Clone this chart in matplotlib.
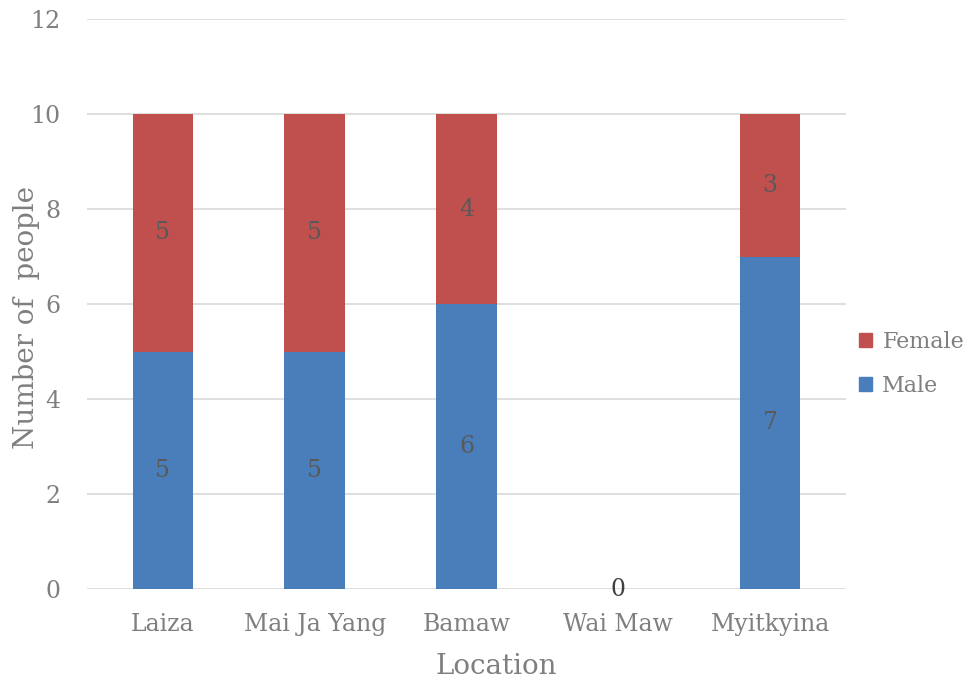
import matplotlib.pyplot as plt
from matplotlib.patches import Patch

locations = ['Laiza', 'Mai Ja Yang', 'Bamaw', 'Wai Maw', 'Myitkyina']
male = [5, 5, 6, 0, 7]
female = [5, 5, 4, 0, 3]

blue = '#4A7EBB'
red = '#C0504D'
grey = '#7F7F7F'
label_grey = '#595959'

plt.rcParams['font.family'] = ['DejaVu Serif']

fig = plt.figure(figsize=(9.71, 6.84), dpi=100)
ax = fig.add_axes([87 / 971, 1 - 589 / 684, (846 - 87) / 971, (589 - 19) / 684])

x = list(range(len(locations)))
bars_m = ax.bar(x, male, width=0.4, color=blue, zorder=3)
bars_f = ax.bar(x, female, width=0.4, bottom=male, color=red, zorder=3)

# data labels in the middle of each segment
for i in x:
    if male[i] > 0:
        ax.text(i, male[i] / 2, str(male[i]), ha='center', va='center',
                fontsize=17, color=label_grey, zorder=4)
    else:
        ax.text(i, 0, '0', ha='center', va='center', fontsize=17,
                color='#404040', zorder=4)
    if female[i] > 0:
        ax.text(i, male[i] + female[i] / 2, str(female[i]), ha='center',
                va='center', fontsize=17, color=label_grey, zorder=4)

ax.set_xlim(-0.5, 4.5)
ax.set_ylim(0, 12)
ax.set_yticks(range(0, 13, 2))
ax.set_xticks(x)
ax.set_xticklabels(locations)
ax.yaxis.grid(True, color='#D9D9D9', linewidth=1.2, zorder=0)
ax.tick_params(axis='both', length=0, labelsize=17, colors=grey)
ax.tick_params(axis='x', pad=17)
ax.tick_params(axis='y', pad=19)
for s in ax.spines.values():
    s.set_visible(False)

ax.set_ylabel('Number of  people', fontsize=20, color=grey)
ax.set_xlabel('Location', fontsize=20, color=grey)
ax.xaxis.set_label_coords((496 - 87) / 759, -0.113)
ax.yaxis.set_label_coords(-0.062, 0.477)

handles = [Patch(color=red), Patch(color=blue)]
fig.legend(handles, ['Female', 'Male'], loc='center left',
           bbox_to_anchor=(839 / 971, 1 - 364 / 684), frameon=False,
           fontsize=16, handlelength=0.6, handleheight=0.6,
           handletextpad=0.45, labelspacing=1.0, labelcolor=grey)

fig.savefig('out.png', dpi=100)
